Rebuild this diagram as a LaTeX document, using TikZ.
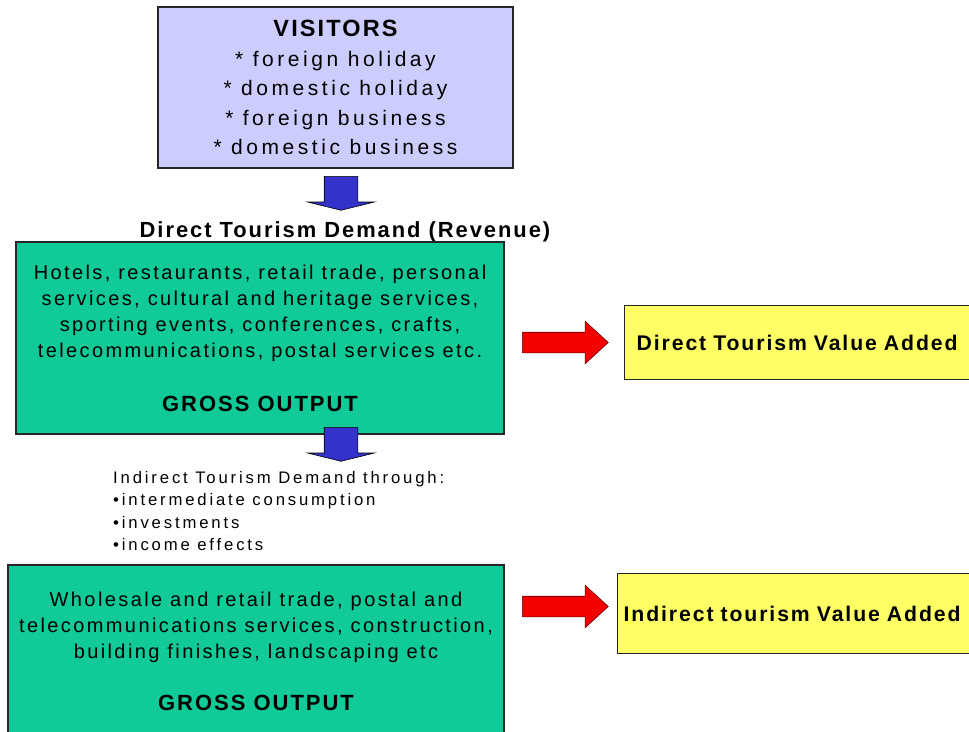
\documentclass[tikz,border=0pt]{standalone}
\usepackage{fontspec}
\setmainfont{Liberation Sans}
\newfontfamily\bodyfont{Liberation Sans}[LetterSpace=12]
\newfontfamily\listfont{Liberation Sans}[LetterSpace=17]
\newfontfamily\headfont{Liberation Sans}[LetterSpace=9]
\usetikzlibrary{shapes.arrows}
\definecolor{lavender}{HTML}{CCCCFF}
\definecolor{sea}{HTML}{10CA98}
\definecolor{lemon}{HTML}{FFFF66}
\definecolor{royal}{HTML}{3333CC}
\definecolor{scarlet}{HTML}{F20000}

\begin{document}
\begin{tikzpicture}[x=1pt,y=-1pt,
    box/.style={draw=black!85,line width=1.3pt,inner sep=0pt,align=center},
    valuebox/.style={draw=black!85,line width=1.3pt,fill=lemon,anchor=north west,minimum height=74pt,text width=400pt,align=left,font=\headfont\bfseries\fontsize{21.2}{24}\selectfont},
    downarrow/.style={single arrow,draw=black,fill=royal,line width=.6pt,rotate=-90,anchor=tail,inner xsep=0pt,inner ysep=16.5pt,minimum height=34pt,single arrow head extend=16.5pt,single arrow tip angle=152},
    rightarrow/.style={single arrow,draw=black!60!red,fill=scarlet,line width=.6pt,anchor=tail,inner xsep=0pt,inner ysep=10pt,minimum height=86pt,single arrow head extend=11pt,single arrow tip angle=85}]
  \clip (0,0) rectangle (969,731);
  \fill[white] (0,0) rectangle (969,731);
  % visitors and direct demand
  \node[box,fill=lavender,minimum width=355pt,minimum height=161pt,font=\listfont\fontsize{21}{29.5}\selectfont] (visitors) at (335.5,87.5) {{\headfont\bfseries\fontsize{23.5}{29.5}\selectfont VISITORS}\\{*} foreign holiday\\{*} domestic holiday\\{*} foreign business\\{*} domestic business};
  \node[downarrow] (visitflow) at (341,176) {};
  \node[anchor=base,inner sep=0pt,font=\headfont\bfseries\fontsize{21.9}{24}\selectfont] (demand) at (345,237) {Direct Tourism Demand (Revenue)};
  \node[box,fill=sea,minimum width=488pt,minimum height=192pt,font=\bodyfont\fontsize{20}{26}\selectfont] (hotels) at (260,338) {Hotels, restaurants, retail trade, personal\\services, cultural and heritage services,\\sporting events, conferences, crafts,\\telecommunications, postal services etc.\\[28pt]{\headfont\bfseries\fontsize{22}{26}\selectfont GROSS OUTPUT}};
  \node[rightarrow] (directflow) at (522,342.5) {};
  \node[valuebox,inner xsep=12pt] (directva) at (624,305) {Direct Tourism Value Added};
  % indirect demand
  \node[downarrow] (indirflow) at (341,427) {};
  \node[anchor=north west,inner sep=0pt,align=left,font=\listfont\fontsize{16.7}{22.5}\selectfont] (indirect) at (113,471) {Indirect Tourism Demand through:\\•intermediate consumption\\•investments\\•income effects};
  \node[box,fill=sea,minimum width=496pt,minimum height=172pt,font=\bodyfont\fontsize{20}{26}\selectfont] (wholesale) at (256,651) {Wholesale and retail trade, postal and\\telecommunications services, construction,\\building finishes, landscaping etc\\[26pt]{\headfont\bfseries\fontsize{22}{26}\selectfont GROSS OUTPUT}};
  \node[rightarrow] (indirectflow) at (522,606.5) {};
  \node[valuebox,inner xsep=6pt,minimum height=80pt] (indirectva) at (617,573) {Indirect tourism Value Added};
\end{tikzpicture}
\end{document}
